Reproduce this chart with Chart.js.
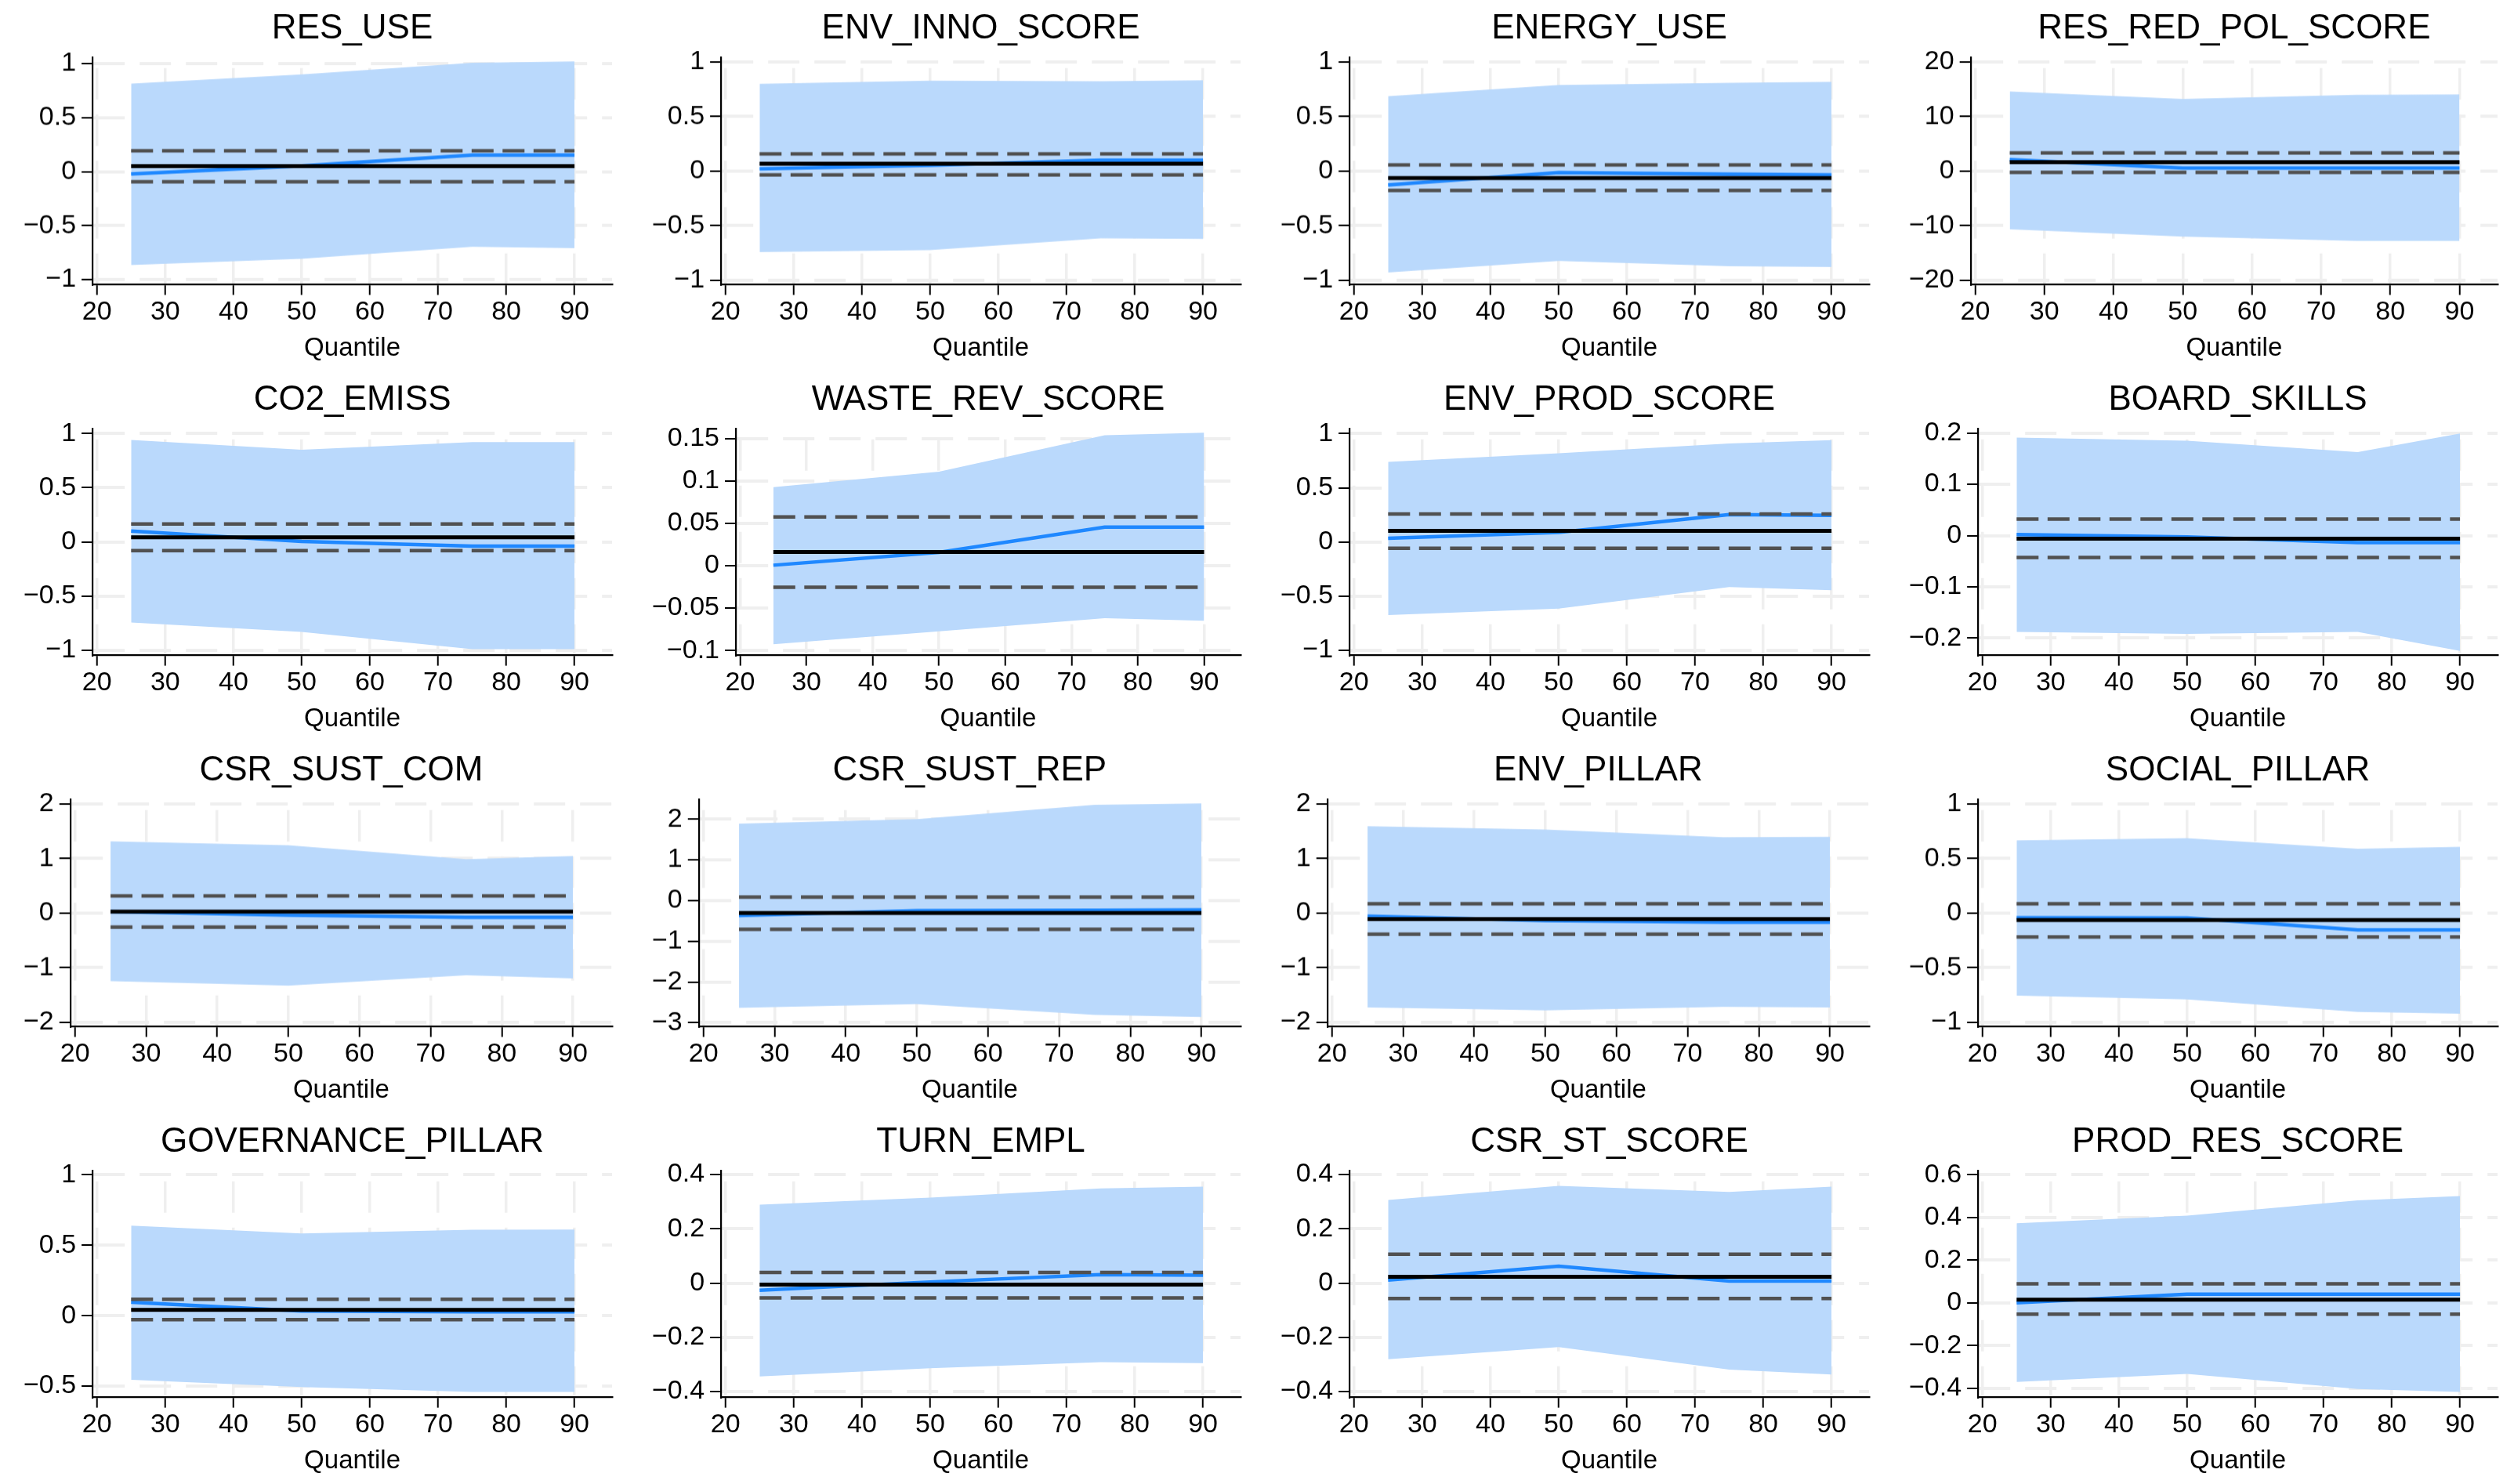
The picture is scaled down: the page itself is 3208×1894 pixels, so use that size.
<!DOCTYPE html>
<html>
<head>
<meta charset="utf-8">
<title>Quantile regression coefficients</title>
<script src="https://cdn.jsdelivr.net/npm/chart.js@4.4.1/dist/chart.umd.min.js"></script>
<style>
    html, body { margin: 0; padding: 0; background: #fff; overflow: hidden; }
    #grid {
        width: 3208px;
        height: 1894px;
        display: grid;
        grid-template-columns: repeat(4, 802px);
        grid-template-rows: repeat(4, 473.5px);
    }
    .cell { position: relative; }
</style>
</head>
<body>
<div id="grid"></div>
<script>
// Panel titles (one per regressor)
const titles = [
    'RES_USE', 'ENV_INNO_SCORE', 'ENERGY_USE', 'RES_RED_POL_SCORE',
    'CO2_EMISS', 'WASTE_REV_SCORE', 'ENV_PROD_SCORE', 'BOARD_SKILLS',
    'CSR_SUST_COM', 'CSR_SUST_REP', 'ENV_PILLAR', 'SOCIAL_PILLAR',
    'GOVERNANCE_PILLAR', 'TURN_EMPL', 'CSR_ST_SCORE', 'PROD_RES_SCORE'
];

// Estimated quantiles and x axis ticks
const quantiles = [25, 50, 75, 90];
const xTicks = [20, 30, 40, 50, 60, 70, 80, 90];

// Quantile regression coefficient at each quantile
const qrCoef = [
    [-0.022, 0.053, 0.152, 0.152],
    [0.02, 0.053, 0.10, 0.10],
    [-0.127, -0.014, -0.029, -0.036],
    [2.1, 0.57, 0.57, 0.57],
    [0.10, 0.005, -0.038, -0.038],
    [0.0006, 0.0157, 0.0455, 0.0455],
    [0.034, 0.089, 0.253, 0.245],
    [0.002, -0.0025, -0.0137, -0.0137],
    [0.029, -0.038, -0.077, -0.077],
    [-0.37, -0.25, -0.237, -0.23],
    [-0.057, -0.139, -0.167, -0.167],
    [-0.043, -0.045, -0.155, -0.155],
    [0.096, 0.033, 0.028, 0.028],
    [-0.027, 0.004, 0.031, 0.029],
    [0.011, 0.062, 0.007, 0.007],
    [0.0, 0.04, 0.04, 0.04]
];

// Confidence band of the quantile estimates
const qrLower = [
    [-0.865, -0.807, -0.696, -0.71],
    [-0.744, -0.725, -0.617, -0.622],
    [-0.93, -0.825, -0.873, -0.88],
    [-10.67, -12.0, -12.8, -12.8],
    [-0.743, -0.83, -0.988, -0.988],
    [-0.0926, -0.0775, -0.062, -0.065],
    [-0.674, -0.614, -0.415, -0.444],
    [-0.188, -0.192, -0.188, -0.225],
    [-1.249, -1.33, -1.139, -1.196],
    [-2.635, -2.545, -2.81, -2.86],
    [-1.73, -1.785, -1.72, -1.73],
    [-0.758, -0.792, -0.907, -0.923],
    [-0.455, -0.506, -0.541, -0.541],
    [-0.344, -0.314, -0.292, -0.295],
    [-0.281, -0.236, -0.319, -0.337],
    [-0.371, -0.333, -0.404, -0.418]
];
const qrUpper = [
    [0.814, 0.90, 1.007, 1.02],
    [0.80, 0.83, 0.823, 0.833],
    [0.687, 0.79, 0.81, 0.818],
    [14.6, 13.25, 14.0, 14.07],
    [0.94, 0.85, 0.92, 0.92],
    [0.0926, 0.111, 0.154, 0.157],
    [0.74, 0.818, 0.909, 0.94],
    [0.191, 0.185, 0.163, 0.199],
    [1.316, 1.244, 0.99, 1.048],
    [1.89, 2.0, 2.35, 2.385],
    [1.593, 1.531, 1.392, 1.40],
    [0.667, 0.687, 0.589, 0.608],
    [0.639, 0.584, 0.61, 0.611],
    [0.289, 0.315, 0.349, 0.355],
    [0.306, 0.358, 0.336, 0.355],
    [0.372, 0.408, 0.48, 0.50]
];

// OLS estimate and its confidence interval
const olsCoef = [0.051, 0.067, -0.065, 1.63, 0.043, 0.0163, 0.103, -0.006,
                 0.029, -0.308, -0.11, -0.065, 0.042, -0.006, 0.023, 0.0146];
const olsLower = [-0.094, -0.036, -0.177, -0.24, -0.08, -0.0255, -0.058, -0.0426,
                  -0.258, -0.705, -0.388, -0.22, -0.028, -0.055, -0.057, -0.0535];
const olsUpper = [0.193, 0.158, 0.057, 3.35, 0.165, 0.0575, 0.259, 0.032,
                  0.316, 0.083, 0.172, 0.086, 0.116, 0.039, 0.106, 0.089];

// Y axis ticks and extent per panel
const yTicks = [
    [-1, -0.5, 0, 0.5, 1],
    [-1, -0.5, 0, 0.5, 1],
    [-1, -0.5, 0, 0.5, 1],
    [-20, -10, 0, 10, 20],
    [-1, -0.5, 0, 0.5, 1],
    [-0.1, -0.05, 0, 0.05, 0.1, 0.15],
    [-1, -0.5, 0, 0.5, 1],
    [-0.2, -0.1, 0, 0.1, 0.2],
    [-2, -1, 0, 1, 2],
    [-3, -2, -1, 0, 1, 2],
    [-2, -1, 0, 1, 2],
    [-1, -0.5, 0, 0.5, 1],
    [-0.5, 0, 0.5, 1],
    [-0.4, -0.2, 0, 0.2, 0.4],
    [-0.4, -0.2, 0, 0.2, 0.4],
    [-0.4, -0.2, 0, 0.2, 0.4, 0.6]
];
const yMin = [-1.041, -1.036, -1.036, -20.7, -1.04, -0.105, -1.04, -0.2325,
              -2.07, -3.08, -2.07, -1.036, -0.575, -0.419, -0.419, -0.44];
const yMax = [1.06, 1.045, 1.045, 20.9, 1.046, 0.162, 1.048, 0.209,
              2.09, 2.49, 2.09, 1.045, 1.031, 0.415, 0.415, 0.62];

const FONT = "'Liberation Sans', Arial, Helvetica, sans-serif";
const BAND = '#bad9fc';
const BLUE = '#1f88ff';
const DASH = '#515151';
const GRID = '#efefef';

function toPoints(xs, ys) {
    return xs.map((x, i) => ({ x: x, y: ys[i] }));
}

function flatLine(value) {
    const ends = [quantiles[0], quantiles[quantiles.length - 1]];
    return ends.map(x => ({ x: x, y: value }));
}

// Stata-style labels use a real minus sign
function tickLabel(v) {
    return String(v).replace('-', '\u2212');
}

const grid = document.getElementById('grid');

titles.forEach((title, i) => {
    const cell = document.createElement('div');
    cell.className = 'cell';
    const canvas = document.createElement('canvas');
    cell.appendChild(canvas);
    grid.appendChild(cell);

    new Chart(canvas.getContext('2d'), {
        type: 'line',
        data: {
            datasets: [
                {
                    // upper edge of the band, filled down to the lower edge
                    data: toPoints(quantiles, qrUpper[i]),
                    fill: '+1',
                    backgroundColor: BAND,
                    borderColor: 'rgba(0,0,0,0)',
                    borderWidth: 0,
                    pointRadius: 0,
                    order: 10
                },
                {
                    data: toPoints(quantiles, qrLower[i]),
                    fill: false,
                    borderColor: 'rgba(0,0,0,0)',
                    borderWidth: 0,
                    pointRadius: 0,
                    order: 10
                },
                {
                    data: toPoints(quantiles, qrCoef[i]),
                    fill: false,
                    borderColor: BLUE,
                    borderWidth: 4.5,
                    pointRadius: 0,
                    order: 4
                },
                {
                    data: flatLine(olsUpper[i]),
                    fill: false,
                    borderColor: DASH,
                    borderWidth: 4.5,
                    borderDash: [28, 11.5],
                    pointRadius: 0,
                    order: 2
                },
                {
                    data: flatLine(olsLower[i]),
                    fill: false,
                    borderColor: DASH,
                    borderWidth: 4.5,
                    borderDash: [28, 11.5],
                    pointRadius: 0,
                    order: 2
                },
                {
                    data: flatLine(olsCoef[i]),
                    fill: false,
                    borderColor: '#000',
                    borderWidth: 5,
                    pointRadius: 0,
                    order: 1
                }
            ]
        },
        options: {
            responsive: true,
            maintainAspectRatio: false,
            animation: false,
            events: [],
            layout: { padding: { left: 23, right: 21, top: 0, bottom: 10 } },
            plugins: {
                legend: { display: false },
                tooltip: { enabled: false },
                title: {
                    display: true,
                    text: title,
                    fullSize: false,
                    color: '#000',
                    font: { family: FONT, size: 44, weight: 'normal', lineHeight: 1.2 },
                    padding: { top: 10.5, bottom: 9.5 }
                }
            },
            scales: {
                x: {
                    type: 'linear',
                    min: 19.35,
                    max: 95.5,
                    afterBuildTicks: scale => {
                        scale.ticks = xTicks.map(v => ({ value: v }));
                    },
                    ticks: {
                        autoSkip: false,
                        maxRotation: 0,
                        padding: 2,
                        color: '#000',
                        font: { family: FONT, size: 34, lineHeight: 1.2 },
                        callback: tickLabel
                    },
                    grid: {
                        color: GRID,
                        lineWidth: 3.5,
                        tickColor: '#000',
                        tickWidth: 2,
                        tickLength: 14,
                        tickBorderDash: []
                    },
                    border: { display: true, color: '#000', width: 2.2, dash: [40, 19], dashOffset: 45 },
                    title: {
                        display: true,
                        text: 'Quantile',
                        color: '#000',
                        font: { family: FONT, size: 33, lineHeight: 1.2 },
                        padding: { top: 3.5, bottom: 0 }
                    }
                },
                y: {
                    type: 'linear',
                    min: yMin[i],
                    max: yMax[i],
                    afterBuildTicks: scale => {
                        scale.ticks = yTicks[i].map(v => ({ value: v }));
                    },
                    ticks: {
                        autoSkip: false,
                        padding: 7,
                        color: '#000',
                        font: { family: FONT, size: 34, lineHeight: 1.2 },
                        callback: tickLabel
                    },
                    grid: {
                        color: GRID,
                        lineWidth: 4,
                        tickColor: '#000',
                        tickWidth: 2,
                        tickLength: 14,
                        tickBorderDash: []
                    },
                    border: { display: true, color: '#000', width: 2.2, dash: [40, 19] }
                }
            }
        }
    });
});
</script>
</body>
</html>
